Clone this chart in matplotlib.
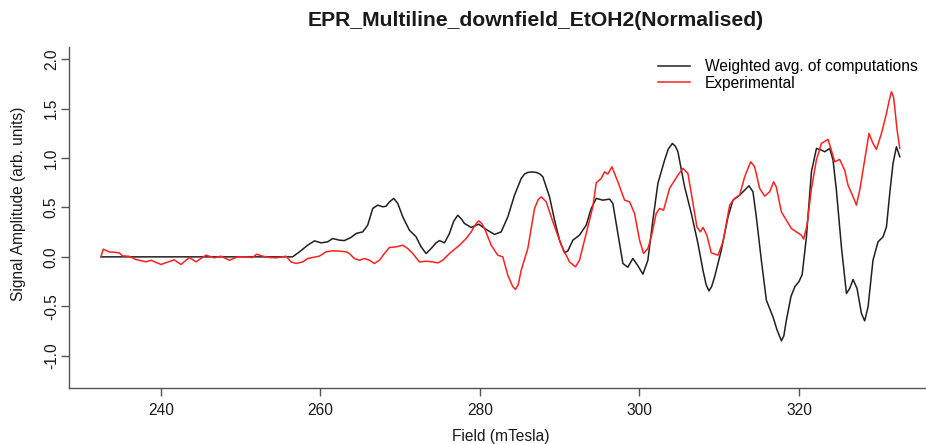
import matplotlib
matplotlib.use("Agg")
import matplotlib.pyplot as plt

plt.rcParams['font.family'] = ['Liberation Sans', 'DejaVu Sans']

# weighted average of computations (black)
calc_field = [232.5, 256.5, 257.35, 258.39, 259.24, 260.08, 260.9, 261.53, 262.37, 263.0,
              263.84, 264.47, 265.3, 265.92, 266.55, 267.18, 267.8, 268.23, 268.65, 269.19,
              269.69, 270.32, 271.15, 271.99, 272.62, 273.25, 273.88, 274.5, 274.92, 275.55,
              276.17, 276.7, 277.22, 277.7, 278.06, 278.9, 279.85, 280.57, 281.82, 282.66,
              283.49, 284.33, 285.17, 285.6, 286.0, 286.5, 287.05, 287.5, 287.88, 288.72,
              289.35, 289.98, 290.6, 291.02, 291.65, 292.48, 293.32, 293.95, 294.58, 295.41,
              296.25, 296.66, 297.29, 297.92, 298.54, 299.17, 299.8, 300.43, 301.05, 301.68,
              302.31, 303.15, 303.6, 304.12, 304.5, 304.82, 305.66, 306.5, 307.33, 307.96,
              308.35, 308.71, 309.05, 309.42, 310.26, 311.1, 311.72, 312.56, 313.19, 313.73,
              314.23, 314.65, 315.28, 315.91, 316.74, 317.25, 317.8, 318.1, 318.4, 319.0,
              319.5, 320.0, 320.4, 320.93, 321.56, 322.19, 322.81, 323.22, 323.85, 324.27,
              324.69, 325.32, 325.95, 326.36, 326.78, 327.28, 327.83, 328.24, 328.66, 329.28,
              329.91, 330.54, 330.97, 331.38, 331.79, 332.22, 332.64]
calc_amp = [0.0, 0.0, 0.05, 0.118, 0.162, 0.142, 0.152, 0.186, 0.169, 0.165,
            0.197, 0.237, 0.253, 0.321, 0.49, 0.524, 0.507, 0.513, 0.557, 0.592,
            0.541, 0.405, 0.27, 0.203, 0.101, 0.034, 0.085, 0.142, 0.165, 0.142,
            0.237, 0.36, 0.422, 0.38, 0.338, 0.298, 0.331, 0.288, 0.227, 0.253,
            0.405, 0.625, 0.794, 0.84, 0.855, 0.86, 0.855, 0.84, 0.811, 0.608,
            0.372, 0.169, 0.041, 0.061, 0.169, 0.22, 0.321, 0.49, 0.592, 0.574,
            0.585, 0.541, 0.237, -0.067, -0.105, -0.016, -0.09, -0.175, -0.034, 0.372,
            0.744, 0.98, 1.09, 1.149, 1.12, 1.064, 0.709, 0.44, 0.136, -0.135,
            -0.28, -0.345, -0.3, -0.203, 0.068, 0.405, 0.574, 0.625, 0.676, 0.72,
            0.659, 0.405, -0.034, -0.439, -0.608, -0.74, -0.85, -0.8, -0.65, -0.40,
            -0.30, -0.25, -0.18, 0.2, 0.86, 1.098, 1.081, 1.064, 1.098, 0.98,
            0.676, 0.101, -0.371, -0.32, -0.229, -0.32, -0.573, -0.648, -0.507, -0.034,
            0.152, 0.203, 0.304, 0.642, 0.946, 1.115, 1.013]

# experimental spectrum (red)
exp_field = [232.47, 232.76, 233.51, 234.35, 234.77, 235.18, 236.02, 236.86, 238.12, 238.75,
             240.0, 241.67, 242.51, 243.55, 244.39, 245.65, 246.69, 247.53, 248.57, 249.61,
             250.66, 251.49, 252.0, 252.75, 253.59, 254.43, 255.26, 255.68, 256.31, 256.94,
             257.77, 258.39, 259.02, 259.86, 260.7, 261.53, 262.37, 263.21, 263.63, 264.25,
             264.88, 265.51, 266.14, 266.76, 267.39, 268.02, 268.65, 269.48, 270.32, 270.94,
             271.57, 272.41, 273.25, 274.08, 274.71, 275.34, 276.17, 277.43, 278.27, 278.9,
             279.45, 279.85, 280.2, 280.57, 281.41, 282.23, 282.86, 283.49, 284.1, 284.46,
             284.8, 285.17, 286.0, 286.84, 287.3, 287.68, 288.31, 289.14, 290.19, 291.23,
             291.98, 292.48, 293.32, 294.15, 294.58, 295.2, 295.62, 296.03, 296.54, 297.29,
             298.13, 298.76, 299.38, 300.01, 300.51, 301.05, 301.48, 302.1, 302.52, 303.02,
             303.77, 304.82, 305.45, 306.07, 306.5, 307.2, 307.63, 307.96, 308.45, 309.0,
             309.84, 310.47, 311.31, 311.93, 312.56, 313.19, 313.94, 314.44, 315.07, 315.69,
             316.32, 316.82, 317.15, 317.79, 318.41, 319.04, 319.67, 320.3, 320.59, 321.0,
             321.56, 322.18, 322.81, 323.64, 324.06, 324.48, 325.1, 325.73, 326.15, 326.7,
             327.2, 327.62, 328.24, 328.78, 329.28, 329.71, 330.34, 330.97, 331.3, 331.59,
             331.85, 332.0, 332.3, 332.64]
exp_amp = [0.0, 0.078, 0.05, 0.045, 0.04, 0.01, 0.005, -0.027, -0.05, -0.035,
           -0.077, -0.03, -0.077, -0.007, -0.05, 0.017, -0.01, 0.007, -0.034, 0.0,
           0.0, -0.007, 0.027, 0.007, -0.006, -0.01, 0.0, 0.007, -0.051, -0.067,
           -0.051, -0.017, -0.006, 0.007, 0.051, 0.061, 0.058, 0.051, 0.034, -0.017,
           -0.034, -0.017, -0.034, -0.067, -0.034, 0.034, 0.095, 0.101, 0.118, 0.085,
           0.034, -0.051, -0.044, -0.051, -0.061, -0.034, 0.034, 0.118, 0.186, 0.253,
           0.33, 0.365, 0.34, 0.288, 0.118, 0.017, 0.0, -0.186, -0.3, -0.33,
           -0.28, -0.135, 0.085, 0.49, 0.58, 0.608, 0.557, 0.355, 0.118, -0.051,
           -0.101, -0.034, 0.237, 0.507, 0.75, 0.794, 0.861, 0.838, 0.912, 0.76,
           0.574, 0.557, 0.44, 0.169, 0.034, 0.085, 0.203, 0.44, 0.49, 0.473,
           0.693, 0.828, 0.896, 0.845, 0.642, 0.304, 0.253, 0.298, 0.22, 0.041,
           0.017, 0.152, 0.524, 0.592, 0.625, 0.811, 0.963, 0.912, 0.693, 0.615,
           0.659, 0.76, 0.709, 0.456, 0.372, 0.288, 0.253, 0.22, 0.18, 0.32,
           0.69, 0.98, 1.149, 1.189, 1.081, 0.963, 0.987, 0.878, 0.726, 0.625,
           0.524, 0.676, 0.98, 1.25, 1.149, 1.088, 1.25, 1.453, 1.58, 1.672,
           1.62, 1.52, 1.284, 1.098]

x_ticks = [240, 260, 280, 300, 320]
y_ticks = [-1.0, -0.5, 0.0, 0.5, 1.0, 1.5, 2.0]

fig = plt.figure(figsize=(9.26, 4.44), dpi=100)
ax = fig.add_axes([0.0748, 0.1261, 0.931, 0.7687])

ax.plot(calc_field, calc_amp, color='#202020', lw=1.1, label='Weighted avg. of computations')
ax.plot(exp_field, exp_amp, color='#ff2020', lw=1.1, label='Experimental')

ax.set_xlim(228.5, 336.6)
ax.set_ylim(-1.328, 2.128)
ax.set_xticks(x_ticks)
ax.set_xticklabels([str(t) for t in x_ticks])
ax.set_yticks(y_ticks)
ax.set_yticklabels(['%.1f' % t for t in y_ticks], rotation=90, va='center')

for side in ['top', 'right']:
    ax.spines[side].set_visible(False)
for side in ['left', 'bottom']:
    ax.spines[side].set_color('#555555')
    ax.spines[side].set_linewidth(1.0)
ax.tick_params(axis='both', length=6, width=1.0, color='#555555', labelsize=11.2,
               labelcolor='#1a1a1a')
ax.tick_params(axis='x', pad=5)
ax.tick_params(axis='y', pad=1.5)

fig.text(0.5405, 0.018, 'Field (mTesla)', ha='center', va='center',
         fontsize=11.2, color='#1a1a1a')
fig.text(0.0195, 0.54, 'Signal Amplitude (arb. units)', rotation=90, ha='center',
         va='center', fontsize=11.2, color='#1a1a1a')
fig.text(0.579, 0.953, 'EPR_Multiline_downfield_EtOH2(Normalised)', ha='center',
         va='center', fontsize=15.2, fontweight='bold', color='#1a1a1a')

ax.legend(loc='upper left', bbox_to_anchor=(0.7106, 0.8671), bbox_transform=fig.transFigure,
          frameon=False, fontsize=11.2, handlelength=2.06, handletextpad=0.95,
          borderpad=0, borderaxespad=0, labelspacing=0.1)

fig.savefig('out.png', dpi=100)
